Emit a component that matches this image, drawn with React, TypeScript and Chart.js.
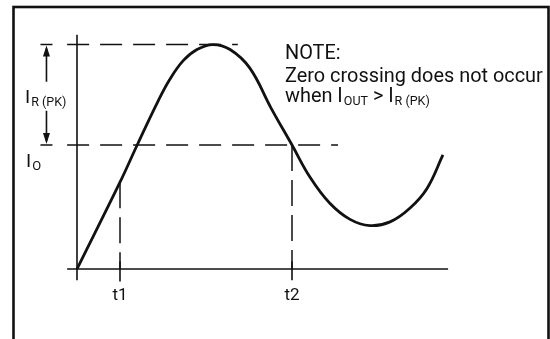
import React, { useEffect, useRef } from "react";
import { Chart, registerables } from "chart.js";

Chart.register(...registerables);

// Output current waveform: time (t1 = 1) vs current (I_O = 1)
const timeSamples = [0, 1, 1.4, 1.88, 2.16, 2.47, 2.79, 3.16, 3.56, 4.02, 4.51, 5, 5.42, 5.88, 6.35, 6.81, 7.28, 7.74, 8.14, 8.51];
const currentSamples = [0, 0.7, 1.0, 1.35, 1.53, 1.68, 1.77, 1.81, 1.77, 1.62, 1.3, 1.0, 0.74, 0.53, 0.4, 0.35, 0.38, 0.49, 0.65, 0.92];

// Reference levels and marked instants
const peakCurrent = 1.81; // I_O + I_R(PK)
const outputCurrent = 1.0; // I_O
const markedTimes = [1, 5];
const markedTimeLabels = ["t1", "t2"];

const INK = "#111111";
const FONT = "Roboto, 'Liberation Sans', sans-serif";

type Pt = { x: number; y: number };

function seg(points: Pt[], dash: number[] = [], width = 1.6) {
  return {
    data: points,
    borderColor: INK,
    borderWidth: width,
    borderDash: dash,
    pointRadius: 0,
    fill: false,
    tension: 0,
  };
}

function font(size: number) {
  return `400 ${size}px ${FONT}`;
}

// Draws "main" followed by a lowered subscript, returns the x where it ends
function withSub(
  ctx: CanvasRenderingContext2D,
  x: number,
  base: number,
  main: string,
  sub: string,
  size: number,
  subSize: number,
  drop: number
) {
  ctx.font = font(size);
  ctx.fillText(main, x, base);
  const w = ctx.measureText(main).width + 1;
  ctx.font = font(subSize);
  ctx.fillText(sub, x + w, base + drop);
  return x + w + ctx.measureText(sub).width;
}

const annotations = {
  id: "diagramAnnotations",
  beforeDraw(chart: any) {
    const { ctx, width, height } = chart;
    ctx.save();
    ctx.fillStyle = "#ffffff";
    ctx.fillRect(0, 0, width, height);
    ctx.restore();
  },
  afterDraw(chart: any) {
    const { ctx } = chart;
    const xs = chart.scales.x;
    const ys = chart.scales.y;
    ctx.save();
    ctx.strokeStyle = INK;
    ctx.fillStyle = INK;

    // outer frame
    ctx.lineWidth = 2.6;
    ctx.strokeRect(13.5, 7, 535, 345);

    // double arrow spanning I_R(PK)
    const ax = xs.getPixelForValue(-0.71);
    const yTop = ys.getPixelForValue(peakCurrent);
    const yBot = ys.getPixelForValue(outputCurrent);
    const yMid = (yTop + yBot) / 2;
    ctx.lineWidth = 1.6;
    ctx.beginPath();
    ctx.moveTo(ax - 6, yTop);
    ctx.lineTo(ax + 6, yTop);
    ctx.moveTo(ax - 6, yBot);
    ctx.lineTo(ax + 6, yBot);
    ctx.moveTo(ax, yTop + 4);
    ctx.lineTo(ax, yMid - 13);
    ctx.moveTo(ax, yMid + 16);
    ctx.lineTo(ax, yBot - 4);
    ctx.stroke();
    ctx.beginPath();
    ctx.moveTo(ax, yTop + 1);
    ctx.lineTo(ax - 3.5, yTop + 12);
    ctx.lineTo(ax + 3.5, yTop + 12);
    ctx.closePath();
    ctx.moveTo(ax, yBot - 1);
    ctx.lineTo(ax - 3.5, yBot - 12);
    ctx.lineTo(ax + 3.5, yBot - 12);
    ctx.closePath();
    ctx.fill();

    ctx.textBaseline = "alphabetic";
    ctx.textAlign = "left";
    withSub(ctx, 25, yMid + 8, "I", "R (PK)", 19, 12.5, 3);
    withSub(ctx, 26, yBot + 22, "I", "O", 19, 13, 3);

    // time markers
    ctx.textAlign = "center";
    ctx.font = font(17);
    markedTimes.forEach((t, i) => {
      ctx.fillText(markedTimeLabels[i], xs.getPixelForValue(t), ys.getPixelForValue(0) + 31);
    });

    // note
    ctx.textAlign = "left";
    const nx = 285;
    const line = "Zero crossing does not occur";
    ctx.font = font(18);
    const fit = (18 * 258) / ctx.measureText(line).width;
    ctx.font = font(fit);
    ctx.fillText("NOTE:", nx, 59);
    ctx.fillText(line, nx, 82);
    ctx.fillText("when ", nx, 102);
    const w0 = ctx.measureText("when ").width;
    let end = withSub(ctx, nx + w0, 102, "I", "OUT", fit, 12.5, 3);
    ctx.font = font(fit);
    ctx.fillText(" > ", end, 102);
    end += ctx.measureText(" > ").width;
    withSub(ctx, end, 102, "I", "R (PK)", fit, 12.5, 3);

    ctx.restore();
  },
};

export default function App() {
  const ref = useRef<HTMLCanvasElement | null>(null);

  useEffect(() => {
    if (!ref.current) return;
    const curve = timeSamples.map((t, i) => ({ x: t, y: currentSamples[i] }));
    const [t1, t2] = markedTimes;
    const t1Level = currentSamples[timeSamples.indexOf(t1)];

    const chart = new Chart(ref.current, {
      type: "line",
      data: {
        datasets: [
          {
            data: curve,
            borderColor: INK,
            borderWidth: 2.8,
            pointRadius: 0,
            fill: false,
            tension: 0.4,
          } as any,
          // axes
          seg([{ x: -0.23, y: 0 }, { x: 8.63, y: 0 }]),
          seg([{ x: 0, y: -0.09 }, { x: 0, y: 1.89 }]),
          // reference levels
          seg([{ x: -0.23, y: peakCurrent }, { x: 3.74, y: peakCurrent }], [22, 11], 1.5),
          seg([{ x: -0.23, y: outputCurrent }, { x: 6.07, y: outputCurrent }], [22, 11], 1.5),
          // instants t1 and t2
          seg([{ x: t1, y: t1Level }, { x: t1, y: 0 }], [26, 9], 1.5),
          seg([{ x: t2, y: outputCurrent }, { x: t2, y: 0 }], [26, 9], 1.5),
          seg([{ x: t1, y: 0.06 }, { x: t1, y: -0.1 }]),
          seg([{ x: t2, y: 0.06 }, { x: t2, y: -0.09 }]),
        ],
      },
      options: {
        animation: false,
        responsive: false,
        devicePixelRatio: 1,
        layout: { padding: { left: 34, right: 43, top: 21, bottom: 8 } },
        plugins: { legend: { display: false }, tooltip: { enabled: false } },
        scales: {
          x: { type: "linear", min: -1, max: 10, display: false },
          y: { type: "linear", min: -0.5, max: 2.0, display: false },
        },
      },
      plugins: [annotations],
    });
    return () => chart.destroy();
  }, []);

  return (
    <div style={{ position: "fixed", left: 0, top: 0, width: 550, height: 339, background: "#fff" }}>
      <canvas ref={ref} width={550} height={339} style={{ display: "block" }} />
    </div>
  );
}
